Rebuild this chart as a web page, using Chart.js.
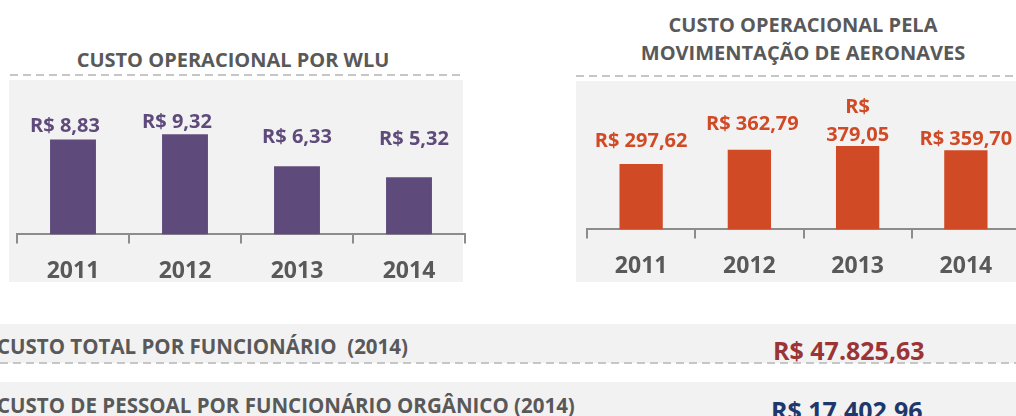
<!DOCTYPE html>
<html>
<head>
<meta charset="utf-8">
<script src="https://cdn.jsdelivr.net/npm/chart.js@4/dist/chart.umd.min.js"></script>
<style>
  body { margin: 0; width: 1016px; height: 416px; overflow: hidden; background: #fff; font-family: "Open Sans", sans-serif; position: relative; }
  .abs { position: absolute; }
  .panel { background: #f2f2f2; }
  .dash { height: 2px; background: repeating-linear-gradient(90deg, #c6c6c6 0 8px, transparent 8px 13px); }
  .title { color: #595959; font-weight: bold; font-size: 20px; text-align: center; line-height: 28px; }
  .rowtxt { color: #595959; font-weight: bold; font-size: 20.5px; white-space: pre; line-height: 24px; }
  .rowval { font-weight: bold; font-size: 25px; line-height: 28px; }
</style>
</head>
<body>
<div class="abs panel" style="left:9px;top:80px;width:454px;height:202px"></div>
<div class="abs panel" style="left:576px;top:81px;width:440px;height:201px"></div>
<div class="abs panel" style="left:0;top:324px;width:1016px;height:39px"></div>
<div class="abs panel" style="left:0;top:382px;width:1016px;height:34px"></div>

<div class="abs title" style="left:0;top:46px;width:466px">CUSTO OPERACIONAL POR WLU</div>
<div class="abs title" style="left:590px;top:11px;width:426px">CUSTO OPERACIONAL PELA<br>MOVIMENTAÇÃO DE AERONAVES</div>
<div class="abs dash" style="left:10px;top:74px;width:453px"></div>
<div class="abs dash" style="left:576px;top:75px;width:440px"></div>
<div class="abs dash" style="left:0;top:362px;width:1016px"></div>

<div class="abs rowtxt" style="left:-3px;top:334px">CUSTO TOTAL POR FUNCIONÁRIO  (2014)</div>
<div class="abs rowval" style="left:773px;top:336px;color:#9b3535">R$ 47.825,63</div>
<div class="abs rowtxt" style="left:-3px;top:393px">CUSTO DE PESSOAL POR FUNCIONÁRIO ORGÂNICO (2014)</div>
<div class="abs rowval" style="left:771px;top:396px;color:#1f386b">R$ 17.402,96</div>

<canvas id="wluChart" class="abs" width="480" height="228" style="left:0;top:80px"></canvas>
<canvas id="movChart" class="abs" width="460" height="228" style="left:570px;top:81px"></canvas>

<script>
// values
const years = ['2011', '2012', '2013', '2014'];
const custoWlu = [8.83, 9.32, 6.33, 5.32];
const custoMov = [297.62, 362.79, 379.05, 359.70];

function reais(v) {
    return 'R$ ' + v.toFixed(2).replace('.', ',');
}

// labels above the bars, nudged like in the original sheet
const barLabels = {
    id: 'barLabels',
    afterDatasetsDraw(chart, args, opts) {
        const ctx = chart.ctx;
        const meta = chart.getDatasetMeta(0);
        const values = chart.data.datasets[0].data;
        ctx.save();
        ctx.font = 'bold 20px "Open Sans"';
        ctx.fillStyle = opts.color;
        ctx.textAlign = 'center';
        ctx.textBaseline = 'middle';
        meta.data.forEach((bar, i) => {
            const x = bar.x + (opts.dx[i] || 0);
            const y = bar.y - opts.lift[i];
            const txt = reais(values[i]);
            if (opts.wrap[i]) {
                const parts = txt.split(' ');
                ctx.fillText(parts[0], x, y - 28);
                ctx.fillText(parts[1], x, y);
            } else {
                ctx.fillText(txt, x, y);
            }
        });
        ctx.restore();
    }
};

function makeChart(id, values, color, yMax, pad, barPct, labelOpts) {
    return new Chart(document.getElementById(id), {
        type: 'bar',
        data: {
            labels: years,
            datasets: [{
                data: values,
                backgroundColor: color,
                barPercentage: barPct,
                categoryPercentage: 1
            }]
        },
        options: {
            responsive: false,
            animation: false,
            layout: { padding: pad },
            plugins: {
                legend: { display: false },
                tooltip: { enabled: false },
                barLabels: labelOpts
            },
            scales: {
                x: {
                    border: { display: true, color: '#8c8c8c', width: 2 },
                    grid: { display: true, drawOnChartArea: false, drawTicks: true, tickLength: 9, color: '#8c8c8c', lineWidth: 2 },
                    ticks: { color: '#595959', padding: 14, font: { family: 'Open Sans', size: 23, weight: 'bold' } }
                },
                y: { display: false, min: 0, max: yMax }
            }
        },
        plugins: [barLabels]
    });
}

makeChart('wluChart', custoWlu, '#5f4b7b', 12.5,
    { left: 17, right: 15, top: 20, bottom: 9 }, 0.41,
    { color: '#5f4b7b', lift: [13, 12, 29, 38], dx: [-8, -8, 0, 5], wrap: [false, false, false, false] });

makeChart('movChart', custoMov, '#d04a26', 584,
    { left: 17, right: 10, top: 20, bottom: 15 }, 0.4,
    { color: '#d04a26', lift: [23, 25, 11, 11], dx: [0, 3, 0, 0], wrap: [false, false, true, false] });
</script>
</body>
</html>
